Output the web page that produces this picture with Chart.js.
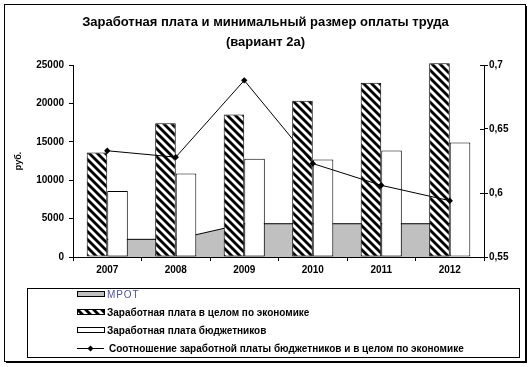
<!DOCTYPE html>
<html>
<head>
<meta charset="utf-8">
<script src="https://cdn.jsdelivr.net/npm/chart.js@4"></script>
<style>
html,body{margin:0;padding:0;background:#fff;}
#wrap{width:531px;height:367px;position:relative;}
</style>
</head>
<body>
<div id="wrap"><canvas id="c" width="531" height="367"></canvas></div>
<script>
const titleLines = ['Заработная плата и минимальный размер оплаты труда', '(вариант 2а)'];
const years = ['2007', '2008', '2009', '2010', '2011', '2012'];
const mrot = [2300, 2300, 4330, 4330, 4330, 4330];
const wageEconomy = [13620, 17400, 18570, 20350, 22700, 25220];
const wageBudget = [8610, 10880, 12780, 12700, 13880, 14920];
const ratio = [0.633, 0.628, 0.688, 0.623, 0.606, 0.594];
const leftTickLabels = ['0', '5000', '10000', '15000', '20000', '25000'];
const rightTickLabels = ['0,55', '0,6', '0,65', '0,7'];
const seriesLabels = ['МРОТ', 'Заработная плата в целом по экономике', 'Заработная плата бюджетников', 'Соотношение заработной платы бюджетников и в целом по экономике'];
const yTitle = 'руб.';

const FONT = "'Liberation Sans', Arial, sans-serif";
const canvas = document.getElementById('c');
const ctx = canvas.getContext('2d');

function makeHatch() {
  const c = document.createElement('canvas');
  c.width = 8; c.height = 8;
  const x = c.getContext('2d');
  x.fillStyle = '#fff';
  x.fillRect(0, 0, 8, 8);
  x.strokeStyle = '#000';
  x.lineWidth = 2.8;
  for (const k of [-8, 0, 8]) {
    x.beginPath();
    x.moveTo(k - 2, -2);
    x.lineTo(k + 10, 10);
    x.stroke();
  }
  return ctx.createPattern(c, 'repeat');
}
const hatch = makeHatch();

const decorPlugin = {
  id: 'decor',
  beforeDraw(chart) {
    const c = chart.ctx;
    c.save();
    c.fillStyle = '#fff';
    c.fillRect(0, 0, chart.width, chart.height);
    c.restore();
  },
  afterDraw(chart) {
    const c = chart.ctx;
    c.save();
    // outer border
    c.strokeStyle = '#000';
    c.lineWidth = 1;
    c.strokeRect(4.5, 4.5, 521, 357);
    c.fillStyle = '#000';
    c.fillRect(526, 6, 1, 357);
    c.fillRect(6, 362, 521, 1);
    // right axis crossing ticks
    const y1 = chart.scales.y1;
    y1.ticks.forEach((t) => {
      const py = Math.round(y1.getPixelForValue(t.value)) + 0.5;
      c.beginPath();
      c.moveTo(y1.left - 4, py);
      c.lineTo(y1.left, py);
      c.stroke();
    });
    // legend box
    c.strokeRect(27.5, 288.5, 492, 69);
    const ds = chart.data.datasets;
    const sx = 77, sw = 27;
    const rows = [294, 312, 330, 348];
    c.textBaseline = 'middle';
    c.textAlign = 'left';
    // МРОТ
    c.fillStyle = '#c0c0c0';
    c.fillRect(sx, rows[0] - 2, sw, 5);
    c.strokeRect(sx + 0.5, rows[0] - 2.5, sw, 5);
    c.fillStyle = '#5050a8';
    c.font = '10px ' + FONT;
    try { c.letterSpacing = '1px'; } catch (e) {}
    c.fillText(ds[0].label, 107, rows[0] + 1);
    try { c.letterSpacing = '0px'; } catch (e) {}
    // hatched
    c.fillStyle = hatch;
    c.fillRect(sx, rows[1] - 2, sw, 5);
    c.strokeRect(sx + 0.5, rows[1] - 2.5, sw, 5);
    c.fillStyle = '#000';
    c.font = 'bold 10px ' + FONT;
    c.fillText(ds[1].label, 107, rows[1] + 1);
    // white
    c.fillStyle = '#fff';
    c.fillRect(sx, rows[2] - 2, sw, 5);
    c.strokeRect(sx + 0.5, rows[2] - 2.5, sw, 5);
    c.fillStyle = '#000';
    c.fillText(ds[2].label, 107, rows[2] + 1);
    // line
    c.beginPath();
    c.moveTo(sx, rows[3] + 0.5);
    c.lineTo(sx + sw, rows[3] + 0.5);
    c.stroke();
    const mx = sx + sw / 2, my = rows[3] + 0.5;
    c.beginPath();
    c.moveTo(mx, my - 3); c.lineTo(mx + 3, my); c.lineTo(mx, my + 3); c.lineTo(mx - 3, my);
    c.closePath();
    c.fill();
    c.fillText(ds[3].label, 109, rows[3] + 1);
    c.restore();
  }
};

new Chart(canvas, {
  type: 'bar',
  data: {
    labels: years,
    datasets: [
      {
        type: 'line',
        label: seriesLabels[0],
        data: mrot,
        yAxisID: 'y',
        fill: 'origin',
        backgroundColor: '#c0c0c0',
        borderColor: '#000',
        borderWidth: 1,
        pointRadius: 0,
        tension: 0,
        order: 3
      },
      {
        label: seriesLabels[1],
        data: wageEconomy,
        yAxisID: 'y',
        backgroundColor: hatch,
        borderColor: '#000',
        borderWidth: 1,
        borderSkipped: false,
        categoryPercentage: 0.6,
        barPercentage: 1,
        clip: false,
        order: 2
      },
      {
        label: seriesLabels[2],
        data: wageBudget,
        yAxisID: 'y',
        backgroundColor: '#fff',
        borderColor: '#000',
        borderWidth: 1,
        borderSkipped: false,
        categoryPercentage: 0.6,
        barPercentage: 1,
        order: 2
      },
      {
        type: 'line',
        label: seriesLabels[3],
        data: ratio,
        yAxisID: 'y1',
        fill: false,
        borderColor: '#000',
        borderWidth: 1,
        backgroundColor: '#000',
        pointStyle: 'rectRot',
        pointRadius: 3.2,
        pointBackgroundColor: '#000',
        pointBorderColor: '#000',
        pointBorderWidth: 0,
        tension: 0,
        order: 1
      }
    ]
  },
  options: {
    responsive: false,
    animation: false,
    layout: { padding: 0 },
    plugins: {
      legend: { display: false },
      tooltip: { enabled: false },
      title: {
        display: true,
        text: titleLines,
        color: '#000',
        font: { family: FONT, size: 13, weight: 'bold', lineHeight: 1.5 },
        padding: { top: 13, bottom: 13 }
      }
    },
    scales: {
      x: {
        offset: true,
        grid: { display: true, drawOnChartArea: false, drawTicks: true, tickLength: 4, color: '#000', offset: true },
        border: { display: true, color: '#000', width: 1 },
        ticks: { color: '#000', font: { family: FONT, size: 10, weight: 'bold' }, padding: 3, maxRotation: 0 },
        afterFit: (s) => { s.height = 110; }
      },
      y: {
        position: 'left',
        min: 0,
        max: 25000,
        ticks: {
          stepSize: 5000,
          color: '#000',
          font: { family: FONT, size: 10, weight: 'bold' },
          padding: 5,
          callback: (v, i) => leftTickLabels[i]
        },
        grid: { display: true, drawOnChartArea: false, drawTicks: true, tickLength: 4, color: '#000' },
        border: { display: true, color: '#000', width: 1 },
        title: {
          display: true,
          text: yTitle,
          color: '#000',
          font: { family: FONT, size: 9, weight: 'bold' },
          padding: { top: 13.5, bottom: 0 }
        },
        afterFit: (s) => { s.width = 73; }
      },
      y1: {
        position: 'right',
        min: 0.55,
        max: 0.7,
        ticks: {
          stepSize: 0.05,
          color: '#000',
          font: { family: FONT, size: 10, weight: 'bold' },
          padding: 1,
          callback: (v, i) => rightTickLabels[i]
        },
        grid: { display: true, drawOnChartArea: false, drawTicks: true, tickLength: 4, color: '#000' },
        border: { display: true, color: '#000', width: 1 },
        afterFit: (s) => { s.width = 47; }
      }
    }
  },
  plugins: [decorPlugin]
});
</script>
</body>
</html>
